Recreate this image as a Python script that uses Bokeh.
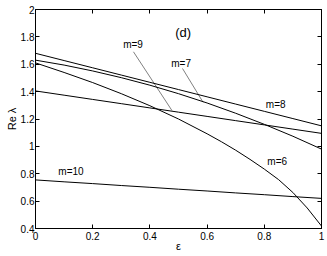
from bokeh.plotting import figure
from bokeh.models import Label, LinearAxis, FixedTicker, Range1d
from bokeh.embed import file_html
from bokeh.resources import INLINE

# ---- data ----
eps = [0.0, 0.1, 0.2, 0.3, 0.4, 0.5, 0.6, 0.7, 0.8, 0.9, 1.0]
m8 = [1.68, 1.627, 1.574, 1.521, 1.468, 1.415, 1.362, 1.309, 1.256, 1.203, 1.15]
m7 = [1.63, 1.594, 1.551, 1.502, 1.447, 1.385, 1.317, 1.242, 1.161, 1.074, 0.98]
m9 = [1.405, 1.374, 1.343, 1.312, 1.281, 1.25, 1.219, 1.188, 1.157, 1.126, 1.095]
m10 = [0.755, 0.741, 0.728, 0.714, 0.701, 0.687, 0.674, 0.660, 0.647, 0.633, 0.62]
eps6 = [0.0, 0.1, 0.2, 0.3, 0.4, 0.5, 0.6, 0.65, 0.7, 0.75, 0.8, 0.85, 0.9, 0.95, 1.0]
m6 = [1.61, 1.54, 1.466, 1.385, 1.297, 1.200, 1.092, 1.034, 0.972, 0.905, 0.834, 0.757, 0.663, 0.55, 0.418]

x_ticks = [0, 0.2, 0.4, 0.6, 0.8, 1]
x_tick_labels = ["0", "0.2", "0.4", "0.6", "0.8", "1"]
y_ticks = [0.4, 0.6, 0.8, 1.0, 1.2, 1.4, 1.6, 1.8, 2.0]
y_tick_labels = ["0.4", "0.6", "0.8", "1", "1.2", "1.4", "1.6", "1.8", "2"]

# annotation texts and anchor points (data units)
labels = ["m=9", "m=7", "m=8", "m=6", "m=10"]
label_x = [0.341, 0.509, 0.84, 0.845, 0.124]
label_y = [1.745, 1.607, 1.309, 0.887, 0.815]
pointer_x0 = [0.3425, 0.514]
pointer_y0 = [1.691, 1.569]
pointer_x1 = [0.477, 0.586]
pointer_y1 = [1.262, 1.322]
panel_tag = "(d)"
panel_x, panel_y = 0.516, 1.833

FONT = "Liberation Sans"

p = figure(width=327, height=256, output_backend="svg", toolbar_location=None,
           x_range=Range1d(0, 1), y_range=Range1d(0.4, 2.0),
           min_border_top=9, min_border_right=6, min_border_left=35, min_border_bottom=28)
p.background_fill_color = "white"
p.border_fill_color = "white"
p.outline_line_color = "black"
p.outline_line_width = 1
p.grid.visible = False

def style_axis(ax, show_labels=True):
    ax.major_tick_in = 4
    ax.major_tick_out = 0
    ax.minor_tick_in = 0
    ax.minor_tick_out = 0
    ax.axis_line_color = "black"
    ax.major_tick_line_color = "black"
    ax.major_label_text_font = FONT
    ax.major_label_text_font_size = "10px"
    ax.major_label_text_color = "black"
    ax.major_label_standoff = 2
    ax.axis_label_text_color = "black"
    if not show_labels:
        ax.major_label_text_font_size = "0px"
        ax.major_label_text_alpha = 0

xa = p.xaxis[0]
xa.ticker = FixedTicker(ticks=x_ticks)
xa.major_label_overrides = {t: s for t, s in zip(x_ticks, x_tick_labels)}
xa.axis_label = "ε"
xa.axis_label_text_font = FONT
xa.axis_label_text_font_style = "normal"
xa.axis_label_text_font_size = "11px"
xa.axis_label_standoff = -3
style_axis(xa)
xa.major_label_standoff = 3

ya = p.yaxis[0]
ya.ticker = FixedTicker(ticks=y_ticks)
ya.major_label_overrides = {t: s for t, s in zip(y_ticks, y_tick_labels)}
ya.axis_label = "Re λ"
ya.axis_label_text_font = FONT
ya.axis_label_text_font_style = "normal"
ya.axis_label_text_font_size = "11px"
ya.axis_label_standoff = 0
style_axis(ya)
ya.major_label_standoff = 1

top = LinearAxis(ticker=FixedTicker(ticks=x_ticks))
style_axis(top, show_labels=False)
p.add_layout(top, "above")
right = LinearAxis(ticker=FixedTicker(ticks=y_ticks))
style_axis(right, show_labels=False)
p.add_layout(right, "right")

for ys in (m8, m7, m9, m10):
    p.line(eps, ys, line_color="black", line_width=1)
p.line(eps6, m6, line_color="black", line_width=1)

for x0, y0, x1, y1 in zip(pointer_x0, pointer_y0, pointer_x1, pointer_y1):
    p.line([x0, x1], [y0, y1], line_color="black", line_width=0.5)

for t, x, y in zip(labels, label_x, label_y):
    p.add_layout(Label(x=x, y=y, text=t, text_font=FONT, text_font_size="10px",
                       text_align="center", text_baseline="middle", text_color="black"))
p.add_layout(Label(x=panel_x, y=panel_y, text=panel_tag, text_font=FONT, text_font_size="13px",
                   text_align="center", text_baseline="middle", text_color="black"))

open("out.html", "w").write(file_html(p, INLINE))
